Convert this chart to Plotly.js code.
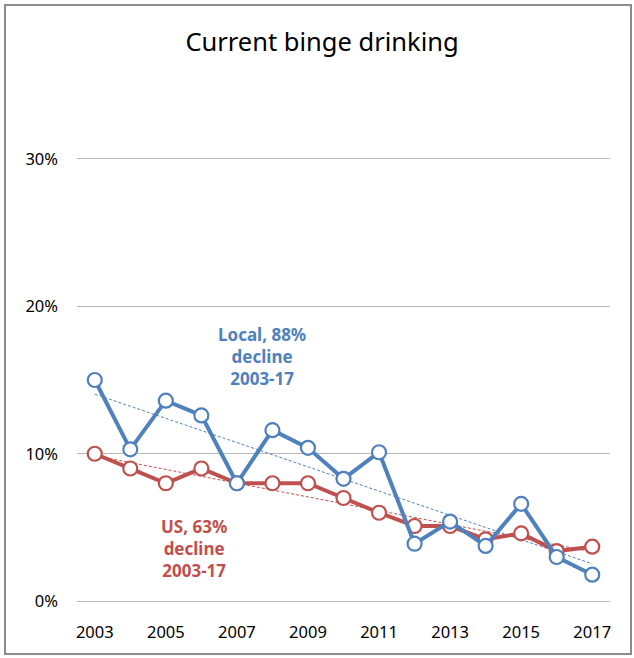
<!DOCTYPE html>
<html>
<head>
<meta charset="utf-8">
<script src="https://cdn.plot.ly/plotly-3.0.1.min.js"></script>
<style>
  html, body { margin: 0; padding: 0; background: #fff; }
  #wrap { position: relative; width: 634px; height: 658px; }
  #chart { width: 634px; height: 658px; }
  #frame { position: absolute; left: 4px; top: 4px; width: 628px; height: 651px;
           border: 2px solid #8c8c8c; box-sizing: border-box; pointer-events: none; }
</style>
</head>
<body>
<div id="wrap">
  <div id="chart"></div>
  <div id="frame"></div>
</div>
<script>
const years = [2003, 2004, 2005, 2006, 2007, 2008, 2009, 2010, 2011, 2012, 2013, 2014, 2015, 2016, 2017];
const localValues = [15.0, 10.3, 13.6, 12.6, 8.0, 11.6, 10.4, 8.3, 10.1, 3.9, 5.4, 3.75, 6.6, 3.0, 1.8];
const usValues = [10.0, 9.0, 8.0, 9.0, 8.0, 8.0, 8.0, 7.0, 6.0, 5.1, 5.1, 4.2, 4.6, 3.4, 3.7];
const xTickVals = [2003, 2005, 2007, 2009, 2011, 2013, 2015, 2017];
const yTickVals = [0, 10, 20, 30];
const yTickText = ['0%', '10%', '20%', '30%'];
const titleText = 'Current binge drinking';
const localLabel = 'Local, 88%<br>decline<br>2003-17';
const usLabel = 'US, 63%<br>decline<br>2003-17';

const BLUE = '#4F81BD';
const RED = '#C0504D';

function linFit(xs, ys) {
  const n = xs.length;
  const mx = xs.reduce((a, b) => a + b, 0) / n;
  const my = ys.reduce((a, b) => a + b, 0) / n;
  let sxy = 0, sxx = 0;
  for (let i = 0; i < n; i++) { sxy += (xs[i] - mx) * (ys[i] - my); sxx += (xs[i] - mx) ** 2; }
  const b = sxy / sxx, a = my - b * mx;
  return xs.map(x => a + b * x);
}

const FONT = 'Noto Sans, Open Sans, sans-serif';

const traces = [
  { x: years, y: linFit(years, usValues), mode: 'lines', line: { color: RED, width: 1, dash: '3px,2px' }, hoverinfo: 'skip' },
  { x: years, y: linFit(years, localValues), mode: 'lines', line: { color: BLUE, width: 1, dash: '3px,2px' }, hoverinfo: 'skip' },
  { x: years, y: usValues, mode: 'lines+markers', name: 'US',
    line: { color: RED, width: 4 },
    marker: { symbol: 'circle', size: 14, color: '#ffffff', line: { color: RED, width: 2.2 } } },
  { x: years, y: localValues, mode: 'lines+markers', name: 'Local',
    line: { color: BLUE, width: 4 },
    marker: { symbol: 'circle', size: 14, color: '#ffffff', line: { color: BLUE, width: 2.2 } } }
];

const layout = {
  width: 634, height: 658,
  margin: { l: 77, r: 24, t: 157, b: 55 },
  paper_bgcolor: '#ffffff', plot_bgcolor: '#ffffff',
  showlegend: false,
  font: { family: FONT, size: 16, color: '#000000' },
  title: { text: titleText, font: { family: FONT, size: 25.5, color: '#000000' },
           x: 0.508, xanchor: 'center', y: 1 - 42 / 658, yanchor: 'middle', yref: 'container' },
  xaxis: {
    range: [2002.5, 2017.5], tickvals: xTickVals, ticktext: xTickVals.map(String),
    showgrid: false, zeroline: false, showline: false, ticks: '',
    tickfont: { family: FONT, size: 16.5, color: '#000' }, ticklabelstandoff: 17
  },
  yaxis: {
    range: [-0.12, 30.12], tickvals: yTickVals, ticktext: yTickText,
    showgrid: true, gridcolor: '#b8b8b8', gridwidth: 1, zeroline: false, showline: false, ticks: '',
    tickfont: { family: FONT, size: 16.5, color: '#000' }, ticklabelstandoff: 18
  },
  annotations: [
    { x: 2007.7, y: 16.6, xref: 'x', yref: 'y', text: localLabel, showarrow: false,
      font: { family: FONT, size: 17, color: BLUE, weight: 'bold' }, align: 'center' },
    { x: 2005.8, y: 3.6, xref: 'x', yref: 'y', text: usLabel, showarrow: false,
      font: { family: FONT, size: 17, color: RED, weight: 'bold' }, align: 'center' }
  ]
};

Plotly.newPlot('chart', traces, layout, { displayModeBar: false, staticPlot: true });
</script>
</body>
</html>
